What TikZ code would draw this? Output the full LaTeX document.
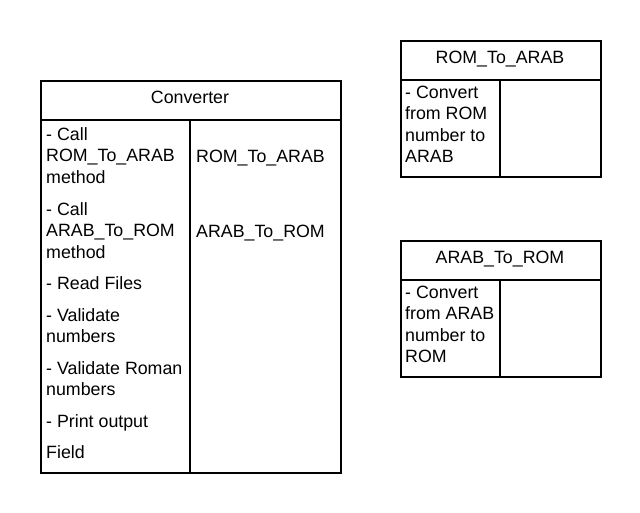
\documentclass[tikz,border=0pt]{standalone}
\usepackage{fontspec}
\setmainfont{Liberation Sans}
\begin{document}
\begin{tikzpicture}[x=1pt,y=-1pt,
  box/.style={draw=black,line width=1.6pt},
  sep/.style={draw=black,line width=1.6pt},
  txt/.style={inner sep=0pt,anchor=base west,font=\fontsize{17.8}{21.5}\selectfont},
  ctxt/.style={inner sep=0pt,anchor=base,font=\fontsize{17.8}{21.5}\selectfont}]
\useasboundingbox (0,0) rectangle (640,512);
% Converter
\node[box,minimum width=300pt,minimum height=392pt,inner sep=0pt,anchor=north west] (conv) at (40,80) {};
\coordinate (cH1) at (40,120); \coordinate (cH2) at (340,120);
\coordinate (cD1) at (190,120); \coordinate (cD2) at (190,472);
\draw[sep] (cH1) -- (cH2);
\draw[sep] (cD1) -- (cD2);
\node[ctxt] (convT) at (190,103) {Converter};
\node[txt] (l1) at (46,140) {- Call};
\node[txt] (l2) at (46,161.5) {ROM\_To\_ARAB};
\node[txt] (l3) at (46,183) {method};
\node[txt] (l4) at (46,215) {- Call};
\node[txt] (l5) at (46,236.5) {ARAB\_To\_ROM};
\node[txt] (l6) at (46,258) {method};
\node[txt] (l7) at (46,289) {- Read Files};
\node[txt] (l8) at (46,321) {- Validate};
\node[txt] (l9) at (46,342.5) {numbers};
\node[txt] (l10) at (46,374) {- Validate Roman};
\node[txt] (l11) at (46,395.5) {numbers};
\node[txt] (l12) at (46,427) {- Print output};
\node[txt] (l13) at (46,458) {Field};
\node[txt] (r1) at (196,162) {ROM\_To\_ARAB};
\node[txt] (r2) at (196,237) {ARAB\_To\_ROM};
% ROM_To_ARAB
\node[box,minimum width=200pt,minimum height=136pt,inner sep=0pt,anchor=north west] (ra) at (400,40) {};
\coordinate (raH1) at (400,80); \coordinate (raH2) at (600,80);
\coordinate (raD1) at (500,80); \coordinate (raD2) at (500,176);
\draw[sep] (raH1) -- (raH2);
\draw[sep] (raD1) -- (raD2);
\node[ctxt] (raT) at (500,63) {ROM\_To\_ARAB};
\node[txt] (ra1) at (405,98) {- Convert};
\node[txt] (ra2) at (405,119.5) {from ROM};
\node[txt] (ra3) at (405,141) {number to};
\node[txt] (ra4) at (405,162.5) {ARAB};
% ARAB_To_ROM
\node[box,minimum width=200pt,minimum height=136pt,inner sep=0pt,anchor=north west] (ar) at (400,240) {};
\coordinate (arH1) at (400,280); \coordinate (arH2) at (600,280);
\coordinate (arD1) at (500,280); \coordinate (arD2) at (500,376);
\draw[sep] (arH1) -- (arH2);
\draw[sep] (arD1) -- (arD2);
\node[ctxt] (arT) at (500,263) {ARAB\_To\_ROM};
\node[txt] (ar1) at (405,298) {- Convert};
\node[txt] (ar2) at (405,319.5) {from ARAB};
\node[txt] (ar3) at (405,341) {number to};
\node[txt] (ar4) at (405,362.5) {ROM};
\end{tikzpicture}
\end{document}
